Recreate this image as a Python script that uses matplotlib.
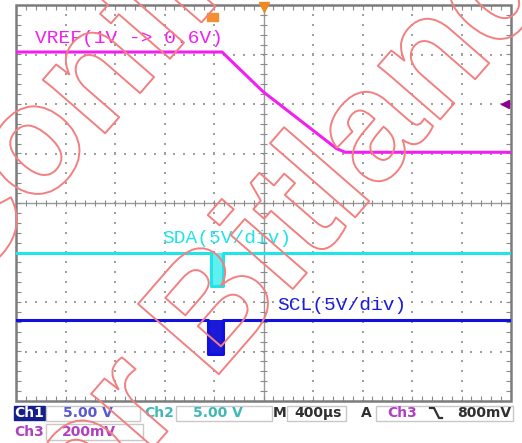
import numpy as np
import matplotlib
matplotlib.use('Agg')
import matplotlib.pyplot as plt
from matplotlib import patheffects as pe
from matplotlib.patches import Rectangle

W, H = 522, 443

# scope settings
time_per_div = 400.0      # us/div
ch1_volts_div = 5.0
ch2_volts_div = 5.0
ch3_volts_div = 0.2
ch1_pos = -3.06           # div, ground marker of Ch1 (SCL)
ch2_pos = -1.68           # div, ground marker of Ch2 (SDA)
ch3_pos = 2.0             # div, trigger level marker of Ch3
ch3_level = 0.8           # V at ch3_pos

# traces (time in us, volts)
vref_t = [-2000, -335, -4, 590, 660, 2000]
vref_v = [1.01, 1.01, 0.85, 0.62, 0.605, 0.605]

sda_t = [-2000, -424, -424, -327, -327, 2000]
sda_v = [3.3, 3.3, 0.0, 0.0, 3.3, 3.3]
sda_burst = (-424, -327)

scl_t = [-2000, -448, -448, -327, -327, 2000]
scl_v = [3.5, 3.5, 0.0, 0.0, 3.5, 3.5]
scl_burst = (-448, -327)

# status bar
ch1_scale = "5.00 V"
ch2_scale = "5.00 V"
ch3_scale = "200mV"
time_scale = "400\u00b5s"
trig_level = "800mV"


def tdiv(t):
    return np.asarray(t) / time_per_div


def vdiv(v, pos, vd, ref=0.0):
    return pos + (np.asarray(v) - ref) / vd


fig = plt.figure(figsize=(W / 100, H / 100), dpi=100)
fig.patch.set_facecolor('white')

ax = fig.add_axes([16 / W, 1 - 401 / H, 495 / W, 396 / H])
ax.set_xlim(-5, 5)
ax.set_ylim(-4, 4)
ax.axis('off')

# graticule
dot_x = np.arange(-5, 5.001, 0.2)
dot_y = np.arange(-4, 4.001, 0.2)
for gx in range(-4, 5):
    if gx != 0:
        ax.scatter(np.full(len(dot_y), gx), dot_y, s=1.6, c='#a0a0a0', marker='s', lw=0, zorder=1)
for gy in range(-3, 4):
    if gy != 0:
        ax.scatter(dot_x, np.full(len(dot_x), gy), s=1.6, c='#a0a0a0', marker='s', lw=0, zorder=1)
ax.axhline(0, color='#9a9a9a', lw=1.0, zorder=1)
ax.axvline(0, color='#9a9a9a', lw=1.0, zorder=1)
tk = 0.07
ax.vlines(dot_x, -tk, tk, color='#8a8a8a', lw=0.8, zorder=1)
ax.hlines(dot_y, -tk, tk, color='#8a8a8a', lw=0.8, zorder=1)
ax.vlines(dot_x, -4, -4 + tk * 1.3, color='#8a8a8a', lw=0.8, zorder=1)
ax.vlines(dot_x, 4 - tk * 1.3, 4, color='#8a8a8a', lw=0.8, zorder=1)
ax.hlines(dot_y, -5, -5 + tk * 1.3, color='#8a8a8a', lw=0.8, zorder=1)
ax.hlines(dot_y, 5 - tk * 1.3, 5, color='#8a8a8a', lw=0.8, zorder=1)
ax.add_patch(Rectangle((-5, -4), 10, 8, fill=False, ec='#7c7c7c', lw=1.8, clip_on=False, zorder=3))

# VREF (Ch3)
ax.plot(tdiv(vref_t), vdiv(vref_v, ch3_pos, ch3_volts_div, ch3_level),
        color='#f020f0', lw=2.2, zorder=4, solid_joinstyle='round')

# SDA (Ch2)
bx = tdiv(sda_burst)
ax.fill_between(bx, vdiv(0.0, ch2_pos, ch2_volts_div), vdiv(3.3, ch2_pos, ch2_volts_div),
                color='#60f0f0', lw=0, zorder=4)
ax.plot(tdiv(sda_t), vdiv(sda_v, ch2_pos, ch2_volts_div), color='#20e4e8', lw=2.2, zorder=4)

# SCL (Ch1)
bx = tdiv(scl_burst)
ax.fill_between(bx, vdiv(0.0, ch1_pos, ch1_volts_div), vdiv(3.5, ch1_pos, ch1_volts_div),
                color='#1a1ad8', lw=0, zorder=4)
ax.plot(tdiv(scl_t), vdiv(scl_v, ch1_pos, ch1_volts_div), color='#1010e0', lw=2.2, zorder=4)

# markers
ax.plot([0], [3.96], marker='v', ms=7, color='#f08a20', clip_on=False, zorder=5)
ax.plot([4.87], [ch3_pos], marker='<', ms=6, color='#8a0090', clip_on=False, zorder=5)

# pixel overlay for labels and status bar
ov = fig.add_axes([0, 0, 1, 1])
ov.set_xlim(0, W)
ov.set_ylim(H, 0)
ov.axis('off')
ov.patch.set_alpha(0)

ov.add_patch(Rectangle((207, 13), 5, 8, color='#f29030', zorder=5))
ov.add_patch(Rectangle((213, 13), 5, 8, color='#f29030', zorder=5))

lab = dict(family=['Liberation Mono', 'DejaVu Sans Mono'], fontsize=14, va='center', ha='left')
ov.text(35, 38, "VREF(1V -> 0.6V)", color='#f020f0', **lab)
ov.text(162, 238, "SDA(5V/div)", color='#20e4e8', **lab)
ov.text(277, 306, "SCL(5V/div)", color='#1a1ae0', **lab)

st = dict(family='DejaVu Sans', fontsize=10, fontweight='bold', va='center', ha='left')
box = dict(fill=False, ec='#c8c8c8', lw=1.0)
ov.add_patch(Rectangle((14, 406), 31, 14, color='#16208a'))
ov.text(29.5, 413, "Ch1", color='white', **{**st, 'ha': 'center'})
ov.add_patch(Rectangle((46, 406), 94, 15, **box))
ov.text(63, 413, ch1_scale, color='#5a5ad0', **st)
ov.text(144, 413, "Ch2", color='#40b8b8', **st)
ov.add_patch(Rectangle((176, 406), 96, 15, **box))
ov.text(193, 413, ch2_scale, color='#40b8b8', **st)
ov.text(273, 413, "M", color='#303030', **st)
ov.add_patch(Rectangle((287, 406), 59, 15, **box))
ov.text(294, 413, time_scale, color='#303030', **st)
ov.text(361, 413, "A", color='#303030', **st)
ov.add_patch(Rectangle((376, 406), 137, 15, **box))
ov.text(387, 413, "Ch3", color='#b040c0', **st)
ov.plot([430, 434, 439, 442], [408, 408, 418, 418], color='#303030', lw=1.6)
ov.text(457, 413, trig_level, color='#303030', **st)
ov.text(14, 432, "Ch3", color='#b040c0', **st)
ov.add_patch(Rectangle((46, 424), 97, 16, **box))
ov.text(62, 432, ch3_scale, color='#b040c0', **st)

# watermark
wm = dict(color='none', fontsize=112, fontweight='bold', rotation=49, rotation_mode='anchor',
          va='baseline', family=['Liberation Sans Narrow', 'Liberation Sans', 'DejaVu Sans'],
          zorder=20, path_effects=[pe.Stroke(linewidth=1.4, foreground='#f28080')])
fig.text(212 / W, 1 - 382 / H, "Bitland", ha='left', **wm)
fig.text(186 / W, 1 - 410 / H, "for", ha='right', **wm)
fig.text(-38 / W, 1 - 298 / H, "Confidential", ha='left', **wm)

fig.savefig('out.png', dpi=100, facecolor='white')
